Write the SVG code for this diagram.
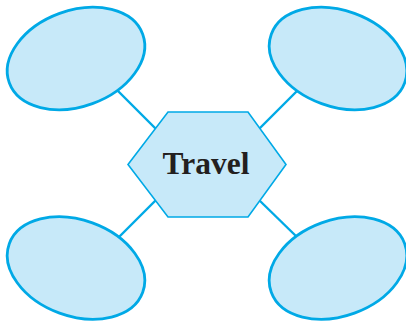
<svg xmlns="http://www.w3.org/2000/svg" width="406" height="321" viewBox="0 0 406 321">
<style>
.bubble{fill:#C7E9F9;stroke:#00A9E6;stroke-width:2.8}
.hex{fill:#C7E9F9;stroke:#00A9E6;stroke-width:1.6}
.conn{stroke:#00A9E6;stroke-width:2.4;fill:none}
.label{font-family:"Liberation Serif",serif;font-weight:bold;font-size:31.5px;fill:#231F20;text-anchor:middle}
</style>
<rect width="406" height="321" fill="#FFFFFF"/>
<g id="connectors">
<line class="conn" x1="117" y1="90" x2="156" y2="129"/>
<line class="conn" x1="298" y1="90" x2="259" y2="129"/>
<line class="conn" x1="118" y1="238" x2="156" y2="200"/>
<line class="conn" x1="298" y1="238" x2="259" y2="200"/>
</g>
<g id="node-topleft"><ellipse class="bubble" cx="76" cy="58.5" rx="71" ry="48" transform="rotate(-20 76 58.5)"/></g>
<g id="node-topright"><ellipse class="bubble" cx="338" cy="58.5" rx="71" ry="48" transform="rotate(20 338 58.5)"/></g>
<g id="node-bottomleft"><ellipse class="bubble" cx="76" cy="268" rx="71" ry="48" transform="rotate(20 76 268)"/></g>
<g id="node-bottomright"><ellipse class="bubble" cx="338" cy="268" rx="71" ry="48" transform="rotate(-20 338 268)"/></g>
<g id="node-travel">
<polygon class="hex" points="128,164.5 168,112 248,112 286,164.5 248,217 168,217"/>
<text class="label" x="206" y="174">Travel</text>
</g>
</svg>
